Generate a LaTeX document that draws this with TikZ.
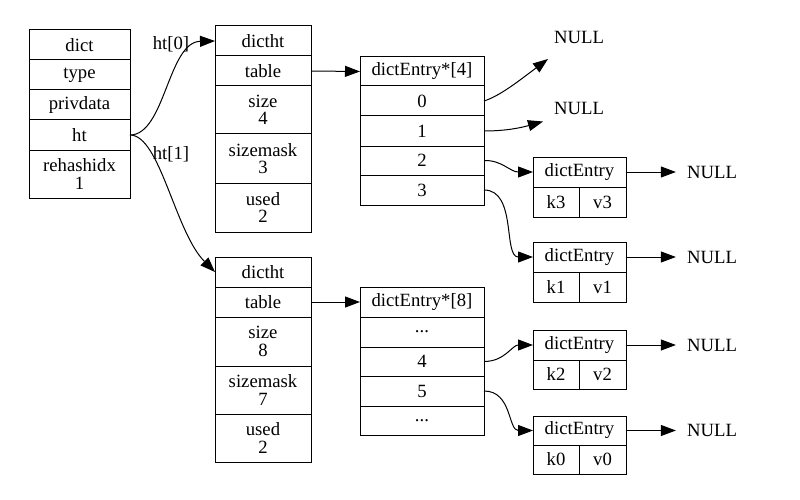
\documentclass[tikz,border=0pt]{standalone}
\usepackage{fontspec}
\setmainfont{Liberation Serif}
\usetikzlibrary{arrows.meta}
\begin{document}
\begin{tikzpicture}[x=1pt,y=-1pt,
  cell/.style={draw, line width=1pt, inner sep=0pt, outer sep=0pt, align=center,
    font=\fontsize{18.7}{17.5}\selectfont, anchor=center},
  lbl/.style={inner sep=0pt, font=\fontsize{18.7}{18}\selectfont},
  nullnode/.style={inner xsep=11pt, inner ysep=0pt, font=\fontsize{18.7}{18}\selectfont},
  conn/.style={line width=1pt, -{Triangle[length=15pt,width=11pt]}},
]
\useasboundingbox (0,0) rectangle (800,500);

% dict
\node[cell, minimum width=101pt, minimum height=30pt] (d0) at (79.5,45) {dict};
\node[cell, minimum width=101pt, minimum height=30pt] (d1) at (79.5,75) {type};
\node[cell, minimum width=101pt, minimum height=30pt] (d2) at (79.5,105) {privdata};
\node[cell, minimum width=101pt, minimum height=30pt] (d3) at (79.5,135) {ht};
\node[cell, minimum width=101pt, minimum height=48pt] (d4) at (79.5,174) {rehashidx\\1};

% dictht 0
\node[cell, minimum width=96pt, minimum height=30pt] (a0) at (263,41) {dictht};
\node[cell, minimum width=96pt, minimum height=30pt] (a1) at (263,71) {table};
\node[cell, minimum width=96pt, minimum height=48pt] (a2) at (263,110) {size\\4};
\node[cell, minimum width=96pt, minimum height=49pt] (a3) at (263,158.5) {sizemask\\3};
\node[cell, minimum width=96pt, minimum height=49pt] (a4) at (263,207.5) {used\\2};

% dictht 1
\node[cell, minimum width=96pt, minimum height=30pt] (b0) at (263,272) {dictht};
\node[cell, minimum width=96pt, minimum height=30pt] (b1) at (263,302) {table};
\node[cell, minimum width=96pt, minimum height=49pt] (b2) at (263,341.5) {size\\8};
\node[cell, minimum width=96pt, minimum height=48pt] (b3) at (263,390) {sizemask\\7};
\node[cell, minimum width=96pt, minimum height=48pt] (b4) at (263,438) {used\\2};

% table 4
\node[cell, minimum width=124pt, minimum height=29pt] (t0) at (422,71.5) {dictEntry*[4]};
\node[cell, minimum width=124pt, minimum height=30pt] (t1) at (422,101) {0};
\node[cell, minimum width=124pt, minimum height=30pt] (t2) at (422,131) {1};
\node[cell, minimum width=124pt, minimum height=29pt] (t3) at (422,160.5) {2};
\node[cell, minimum width=124pt, minimum height=30pt] (t4) at (422,190) {3};

% table 8
\node[cell, minimum width=124pt, minimum height=30pt] (s0) at (422,302) {dictEntry*[8]};
\node[cell, minimum width=124pt, minimum height=30pt] (s1) at (422,332) {...};
\node[cell, minimum width=124pt, minimum height=29pt] (s2) at (422,361.5) {4};
\node[cell, minimum width=124pt, minimum height=30pt] (s3) at (422,391) {5};
\node[cell, minimum width=124pt, minimum height=29pt] (s4) at (422,420.5) {...};

% entries
\node[cell, minimum width=93pt, minimum height=30pt] (e3) at (579.5,172) {dictEntry};
\node[cell, minimum width=46pt, minimum height=30pt] (e3k) at (556,202) {k3};
\node[cell, minimum width=47pt, minimum height=30pt] (e3v) at (602.5,202) {v3};

\node[cell, minimum width=93pt, minimum height=30pt] (e1) at (579.5,257) {dictEntry};
\node[cell, minimum width=46pt, minimum height=30pt] (e1k) at (556,287) {k1};
\node[cell, minimum width=47pt, minimum height=30pt] (e1v) at (602.5,287) {v1};

\node[cell, minimum width=93pt, minimum height=30pt] (e2) at (579.5,345) {dictEntry};
\node[cell, minimum width=46pt, minimum height=29pt] (e2k) at (556,374.5) {k2};
\node[cell, minimum width=47pt, minimum height=29pt] (e2v) at (602.5,374.5) {v2};

\node[cell, minimum width=93pt, minimum height=29pt] (e0) at (579.5,430.5) {dictEntry};
\node[cell, minimum width=46pt, minimum height=29pt] (e0k) at (556,459.5) {k0};
\node[cell, minimum width=47pt, minimum height=29pt] (e0v) at (602.5,459.5) {v0};

% NULL nodes
\node[nullnode] (n3) at (712,172) {NULL};
\node[nullnode] (n1) at (712,257) {NULL};
\node[nullnode] (n2) at (712,345) {NULL};
\node[nullnode] (n0) at (712,430.5) {NULL};
\node[lbl] (nt0) at (579,37) {NULL};
\node[lbl] (nt1) at (579,108) {NULL};
\coordinate (pt0) at (548,59);
\coordinate (pt1) at (543,121.5);

% labels
\node[lbl] (l0) at (171,44) {ht[0]};
\node[lbl] (l1) at (171,154) {ht[1]};

% connectors
\draw[conn] (d3.east) .. controls (165,135) and (168,42) .. (a0.west);
\draw[conn] (d3.east) .. controls (160,135) and (175,232) .. (b0.west);
\draw[conn] (a1.east) -- (t0.west);
\draw[conn] (b1.east) -- (s0.west);
\draw[conn] (t1.east) .. controls (500,96) and (520,80) .. (pt0);
\draw[conn] (t2.east) .. controls (505,131) and (520,128) .. (pt1);
\draw[conn] (t3.east) .. controls (502,160) and (510,172) .. (e3.west);
\draw[conn] (t4.east) .. controls (517,190) and (503,257) .. (e1.west);
\draw[conn] (s2.east) .. controls (505,361.5) and (512,345) .. (e2.west);
\draw[conn] (s3.east) .. controls (512,391) and (508,430.5) .. (e0.west);
\draw[conn] (e3.east) -- (n3.west);
\draw[conn] (e1.east) -- (n1.west);
\draw[conn] (e2.east) -- (n2.west);
\draw[conn] (e0.east) -- (n0.west);
\end{tikzpicture}
\end{document}
